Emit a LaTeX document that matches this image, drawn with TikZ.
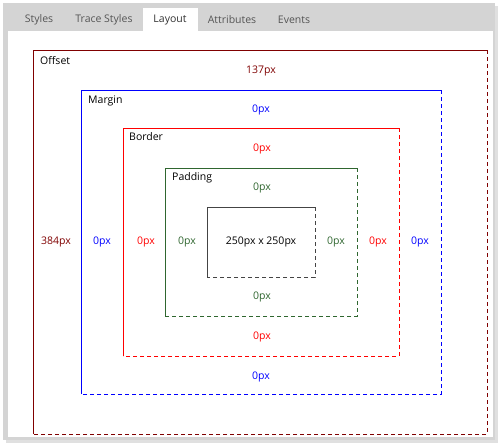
\documentclass[tikz,border=0pt]{standalone}
\usepackage{fontspec}
\setmainfont{Open Sans}
\usetikzlibrary{positioning}

\definecolor{offsetred}{HTML}{800000}
\definecolor{marginblue}{HTML}{0000FF}
\definecolor{borderred}{HTML}{FF0000}
\definecolor{paddinggreen}{HTML}{2F662F}
\definecolor{contentgray}{HTML}{444444}
\definecolor{tabgray}{HTML}{D4D4D4}
\definecolor{tabtext}{HTML}{555555}

% one box of the layout: solid top and left edge, dashed right and bottom edge
\newcommand{\layoutbox}[5]{%
  \draw[edge,#1] (#2,#5) |- (#4,#3);
  \draw[edge,#1,dashes] (#4,#3) |- (#2,#5);
}

\begin{document}
\begin{tikzpicture}[
  x=1pt,y=-1pt,
  edge/.style={line width=0.9pt},
  dashes/.style={dash pattern=on 4pt off 3pt},
  tab/.style={font=\fontsize{10.5}{12}\selectfont,text=tabtext,inner sep=0pt},
  title/.style={font=\fontsize{10.5}{12}\selectfont,anchor=west,inner sep=0pt},
  value/.style={font=\fontsize{10.5}{12}\selectfont,inner sep=0pt}
]
\useasboundingbox (0,0) rectangle (504,447);

% window frame with tab bar
\fill[black!12] (6,6) rectangle (498,443);
\fill[tabgray] (3,3) rectangle (495,440);
\fill[white] (8,31) rectangle (493,437);
\fill[white] (143,8) rectangle (198,31);

\node[tab] (tstyles) at (39,20) {Styles};
\node[tab] (ttrace) at (104,20) {Trace Styles};
\node[tab,text=black!80] (tlayout) at (170,20) {Layout};
\node[tab] (tattr) at (232,20) {Attributes};
\node[tab] (tevents) at (294,20) {Events};

% nested boxes
\layoutbox{offsetred}{33}{50}{487}{434}
\layoutbox{marginblue}{81}{90}{441}{394}
\layoutbox{borderred}{123}{128}{399}{356}
\layoutbox{paddinggreen}{165}{168}{357}{316}
\layoutbox{contentgray}{207}{207}{315}{277}

% offset
\node[title] (offset) at (40,61) {Offset};
\node[value,text=offsetred] (offtop) at (261,71) {137px};
\node[value,text=offsetred] (offleft) at (56,242) {384px};

% margin
\node[title] (margin) at (88,101) {Margin};
\node[value,text=marginblue] (margtop) at (261,110) {0px};
\node[value,text=marginblue] (margleft) at (102,242) {0px};
\node[value,text=marginblue] (margright) at (420,242) {0px};
\node[value,text=marginblue] (margbottom) at (261,377) {0px};

% border
\node[title] (border) at (129,137) {Border};
\node[value,text=borderred] (bordtop) at (262,149) {0px};
\node[value,text=borderred] (bordleft) at (146,242) {0px};
\node[value,text=borderred] (bordright) at (378,242) {0px};
\node[value,text=borderred] (bordbottom) at (262,337) {0px};

% padding
\node[title] (padding) at (172,178) {Padding};
\node[value,text=paddinggreen] (padtop) at (262,188) {0px};
\node[value,text=paddinggreen] (padleft) at (187,242) {0px};
\node[value,text=paddinggreen] (padright) at (336,242) {0px};
\node[value,text=paddinggreen] (padbottom) at (262,297) {0px};

% content
\node[value] (content) at (261,242) {250px x 250px};
\end{tikzpicture}
\end{document}
